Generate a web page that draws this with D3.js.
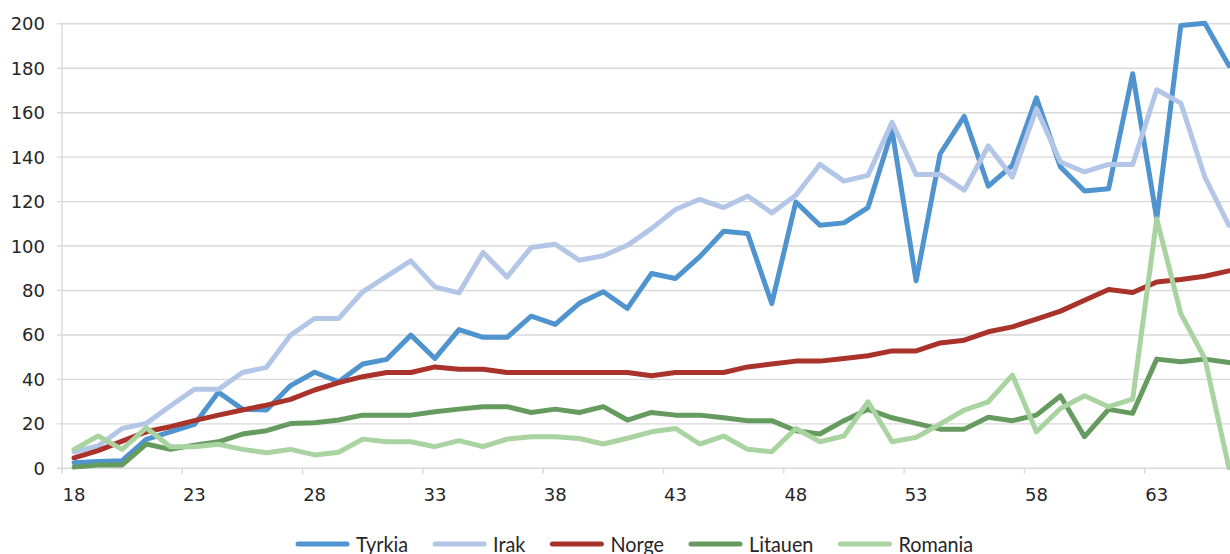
<!DOCTYPE html>
<html>
<head>
<meta charset="utf-8">
<script src="https://cdn.jsdelivr.net/npm/d3@7"></script>
<style>
  body { margin: 0; background: #fff; }
  svg { display: block; }
</style>
</head>
<body>
<svg id="chart"></svg>
<script>
// ages 18..66
var ages = d3.range(18, 67);
var tickAges = [18, 23, 28, 33, 38, 43, 48, 53, 58, 63];
var yTicks = [0, 20, 40, 60, 80, 100, 120, 140, 160, 180, 200];

var seriesNames = ["Tyrkia", "Irak", "Norge", "Litauen", "Romania"];
var seriesColors = ["#4f93cf", "#b4c6e7", "#a9322a", "#659b5e", "#a9d3a0"];

var tyrkia = [2.3, 2.8, 3.2, 12.8, 16.2, 19.5, 34, 26.4, 26, 37,
  43, 38.7, 46.7, 48.8, 59.7, 49.2, 62.2, 58.7, 58.7, 68.2,
  64.5, 74, 79.2, 71.7, 87.4, 85.2, 94.9, 106.4, 105.4, 73.9,
  119.6, 109.1, 110.2, 117.1, 151.8, 84.1, 141.3, 158.1, 126.7, 136.1,
  166.5, 135.3, 124.5, 125.6, 177.3, 112.1, 199, 200, 181];
var irak = [7.2, 9.8, 17.7, 20, 27.8, 35.3, 35.3, 42.9, 45.2, 59.7,
  67.2, 67.2, 79.2, 86.2, 93.1, 81.4, 78.7, 96.9, 85.9, 99.1,
  100.6, 93.4, 95.4, 100.1, 107.6, 116.2, 120.8, 117.1, 122.3, 114.7,
  122.6, 136.5, 129, 131.6, 155.5, 132, 132, 124.9, 144.8, 130.8,
  161.6, 137.6, 133.1, 136.5, 136.5, 170.1, 164.1, 130.8, 109.1];
var norge = [4.5, 7.7, 12, 16.2, 18.5, 21.2, 23.7, 26, 28.2, 30.8,
  35, 38.3, 41, 42.9, 42.9, 45.4, 44.3, 44.3, 42.9, 42.9,
  42.9, 42.9, 42.9, 42.9, 41.4, 42.9, 42.9, 42.9, 45.4, 46.7,
  48, 48, 49.2, 50.4, 52.6, 52.6, 56.2, 57.4, 61.2, 63.4,
  66.9, 70.5, 75.4, 80.2, 78.9, 83.6, 84.7, 86.2, 88.6];
var litauen = [0.3, 1.3, 1.3, 10.7, 8.3, 10.2, 11.7, 15.2, 16.7, 19.9,
  20.3, 21.5, 23.7, 23.7, 23.7, 25.2, 26.4, 27.5, 27.5, 24.9,
  26.4, 24.9, 27.5, 21.5, 24.9, 23.7, 23.7, 22.5, 21.2, 21.2,
  16.7, 15.2, 21.2, 26.3, 22.5, 20, 17.4, 17.4, 22.7, 21.2,
  23.7, 32.3, 14, 26.3, 24.5, 48.9, 47.7, 48.9, 47.4];
var romania = [8.3, 14.3, 8.3, 18, 9.5, 9.5, 10.6, 8.3, 6.8, 8.3,
  5.8, 7, 12.9, 11.7, 11.7, 9.5, 12.2, 9.5, 12.9, 14,
  14, 13.2, 10.7, 13.3, 16.2, 17.7, 10.7, 14.3, 8.3, 7.2,
  17.7, 11.7, 14.3, 29.7, 11.7, 13.7, 19.7, 26, 29.7, 41.7,
  16.2, 26.7, 32.4, 27.5, 30.9, 112, 69.4, 49.2, 0];

var seriesValues = [tyrkia, irak, norge, litauen, romania];

var W = 1230, H = 554;
var plotLeft = 62, plotTop = 23.3, plotBottom = 467.8, band = 24.06;
var plotRight = plotLeft + ages.length * band;

var svg = d3.select("#chart").attr("width", W).attr("height", H);

var x = d3.scaleBand().domain(ages).range([plotLeft, plotRight]).paddingInner(0).paddingOuter(0);
var y = d3.scaleLinear().domain([0, 200]).range([plotBottom, plotTop]);

// gridlines + y axis labels
var yAxis = d3.axisLeft(y).tickValues(yTicks).tickSize(-(plotRight - plotLeft)).tickPadding(17);
var gy = svg.append("g").attr("transform", "translate(" + plotLeft + ",0)").call(yAxis);
gy.select(".domain").remove();
gy.selectAll(".tick line")
    .attr("x1", -5)
    .attr("stroke", "#d9d9d9")
    .attr("stroke-width", 1.4);
gy.selectAll(".tick text")
    .attr("fill", "#262626")
    .attr("font-family", "'DejaVu Sans', Verdana, sans-serif")
    .attr("font-size", 18)
    .attr("dy", "0.36em");

// y axis line
svg.append("line")
    .attr("x1", plotLeft).attr("x2", plotLeft)
    .attr("y1", plotTop).attr("y2", plotBottom + 5)
    .attr("stroke", "#d9d9d9").attr("stroke-width", 1.4);

// x axis: ticks on category boundaries every 5, labels centred on the category
var gx = svg.append("g").attr("transform", "translate(0," + plotBottom + ")");
gx.selectAll("line.tk")
  .data(tickAges)
  .enter()
  .append("line")
    .attr("class", "tk")
    .attr("x1", function(d){ return x(d); })
    .attr("x2", function(d){ return x(d); })
    .attr("y1", 0).attr("y2", 6)
    .attr("stroke", "#d9d9d9").attr("stroke-width", 1.4);
gx.selectAll("text")
  .data(tickAges)
  .enter()
  .append("text")
    .attr("x", function(d){ return x(d) + x.bandwidth() / 2; })
    .attr("y", 33)
    .attr("text-anchor", "middle")
    .attr("fill", "#262626")
    .attr("font-family", "'DejaVu Sans', Verdana, sans-serif")
    .attr("font-size", 18)
    .text(function(d){ return d; });

// lines
var line = d3.line()
    .x(function(d, i){ return x(ages[i]) + x.bandwidth() / 2; })
    .y(function(d){ return y(d); });

svg.append("g").selectAll("path")
  .data(seriesValues)
  .enter()
  .append("path")
    .attr("d", line)
    .attr("fill", "none")
    .attr("stroke", function(d, i){ return seriesColors[i]; })
    .attr("stroke-width", 5)
    .attr("stroke-linejoin", "round")
    .attr("stroke-linecap", "round");

// legend
var legend = svg.append("g");
var lx = 296, ly = 544;
seriesNames.forEach(function(name, i) {
  legend.append("line")
      .attr("x1", lx + 2).attr("x2", lx + 51)
      .attr("y1", ly).attr("y2", ly)
      .attr("stroke", seriesColors[i])
      .attr("stroke-width", 5)
      .attr("stroke-linecap", "round");
  var t = legend.append("text")
      .attr("x", lx + 60)
      .attr("y", ly + 7.5)
      .attr("fill", "#262626")
      .attr("font-family", "Lato, 'Open Sans', sans-serif")
      .attr("font-size", 22)
      .text(name);
  var w = t.node().getComputedTextLength() * 0.9;
  t.attr("textLength", w).attr("lengthAdjust", "spacingAndGlyphs");
  lx = lx + 60 + w + 25;
});
</script>
</body>
</html>
